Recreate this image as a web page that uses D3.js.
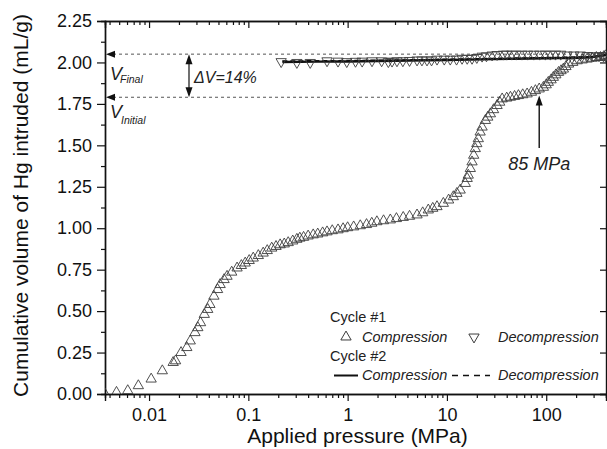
<!DOCTYPE html>
<html>
<head>
<meta charset="utf-8">
<script src="https://cdn.jsdelivr.net/npm/d3@7"></script>
<style>
  body { margin: 0; background: #fff; }
  svg { display: block; font-family: "Liberation Sans", Arial, sans-serif; }
</style>
</head>
<body>
<div id="chart"></div>
<script>
// Cycle #1 compression (up triangles): pressure MPa, volume mL/g
var c1CompP = [0.0036, 0.0047, 0.0061, 0.0078, 0.0105, 0.0136, 0.0175, 0.0185, 0.021, 0.024, 0.026, 0.029, 0.031, 0.033, 0.036, 0.039, 0.041,
  0.045, 0.049, 0.052, 0.057, 0.061, 0.068, 0.077, 0.085, 0.093, 0.102, 0.112, 0.126, 0.141, 0.155, 0.172, 0.19, 0.209, 0.23, 0.252, 0.28, 0.308,
  0.33, 0.36, 0.40, 0.45, 0.50, 0.56, 0.62, 0.70, 0.80, 0.90, 1.0, 1.15, 1.34, 1.55, 1.75, 1.97, 2.3, 2.69, 3.1, 3.63, 4.2, 5.0, 5.7, 6.49,
  7.2, 7.94, 9.2, 10.4, 11.6, 12.6, 13.6, 15.3, 16.0, 16.4, 17.2, 17.9, 18.6, 19.3, 20.0, 20.7, 21.6, 22.6, 24.4, 25.8, 27.4, 29.5, 32, 34, 36,
  40, 43.6, 48, 52.5, 58, 64.2, 71, 77.8, 85, 93.7, 100, 105, 112, 118, 125, 133, 141, 149, 158, 168, 185, 205, 230, 258, 290, 320, 352, 380, 395];
var c1CompV = [0.00, 0.01, 0.02, 0.05, 0.09, 0.14, 0.19, 0.20, 0.25, 0.28, 0.32, 0.37, 0.40, 0.43, 0.48, 0.51, 0.54,
  0.59, 0.63, 0.66, 0.69, 0.71, 0.735, 0.76, 0.775, 0.79, 0.805, 0.82, 0.835, 0.85, 0.865, 0.88, 0.89, 0.90, 0.905, 0.913, 0.923, 0.933,
  0.94, 0.945, 0.953, 0.96, 0.965, 0.972, 0.978, 0.985, 0.99, 0.997, 1.003, 1.008, 1.015, 1.022, 1.03, 1.039, 1.045, 1.05, 1.058, 1.065, 1.072, 1.08, 1.093, 1.11,
  1.12, 1.13, 1.15, 1.17, 1.19, 1.21, 1.23, 1.27, 1.30, 1.32, 1.36, 1.40, 1.44, 1.48, 1.51, 1.54, 1.58, 1.61, 1.65, 1.67, 1.69, 1.715, 1.74, 1.76, 1.78,
  1.785, 1.79, 1.795, 1.80, 1.805, 1.81, 1.82, 1.83, 1.84, 1.85, 1.865, 1.88, 1.895, 1.91, 1.925, 1.94, 1.95, 1.96, 1.975, 1.99, 2.00, 2.01, 2.015, 2.02, 2.025, 2.03, 2.03, 2.035, 2.04];

// Cycle #1 decompression (down triangles)
var c1DecP = [395, 377, 340, 299, 260, 221, 190, 162, 140, 124, 110, 98, 86, 75, 65, 57, 50, 45, 40, 37, 32, 28.5, 25, 22.6, 20, 17.9, 16, 14.2,
  12.5, 10.8, 9.4, 7.95, 7, 6.3, 5.6, 5.0, 4.2, 3.6, 3.14, 2.8, 2.57, 2.2, 1.76, 1.4, 1.2, 0.98, 0.8, 0.62, 0.42, 0.308, 0.214];
var c1DecV = [2.04, 2.04, 2.04, 2.04, 2.042, 2.045, 2.045, 2.045, 2.05, 2.05, 2.05, 2.05, 2.05, 2.05, 2.05, 2.05, 2.05, 2.05, 2.05, 2.05, 2.048, 2.045, 2.04, 2.038, 2.03, 2.025, 2.025, 2.025,
  2.02, 2.02, 2.02, 2.02, 2.015, 2.015, 2.015, 2.015, 2.012, 2.01, 2.01, 2.008, 2.005, 2.01, 2.01, 2.008, 2.007, 2.005, 2.008, 2.01, 2.0, 2.0, 2.005];

// Cycle #2 compression (solid) and decompression (dashed)
var c2CompP = [0.22, 0.5, 1, 3, 10, 30, 100, 250, 400];
var c2CompV = [2.003, 2.005, 2.006, 2.01, 2.015, 2.02, 2.025, 2.03, 2.045];
var c2DecP = [400, 250, 100, 30, 10, 3, 1, 0.3, 0.22];
var c2DecV = [2.045, 2.035, 2.03, 2.025, 2.02, 2.015, 2.012, 2.01, 2.01];

var xMajor = [0.01, 0.1, 1, 10, 100];
var xLabels = ['0.01', '0.1', '1', '10', '100'];
var yMajor = [0, 0.25, 0.5, 0.75, 1, 1.25, 1.5, 1.75, 2, 2.25];

var vFinal = 2.05;
var vInitial = 1.79;
var arrowP = 85;

var width = 607, height = 449;
var mLeft = 105, mRight = 606, mTop = 21, mBottom = 394;

var svg = d3.select('#chart').append('svg')
    .attr('width', width)
    .attr('height', height);

var x = d3.scaleLog().domain([0.0036, 400]).range([mLeft, mRight]);
var y = d3.scaleLinear().domain([0, 2.25]).range([mBottom, mTop]);

svg.append('clipPath').attr('id', 'clip')
  .append('rect').attr('x', mLeft).attr('y', mTop).attr('width', mRight - mLeft + 1).attr('height', mBottom - mTop);

// minor ticks
var xMinor = x.ticks().filter(function (d) { return xMajor.indexOf(d) < 0; });
var yMinor = d3.range(0.125, 2.25, 0.25);

function styleAxis(g) {
  g.selectAll('path.domain').attr('stroke', '#111').attr('stroke-width', 1.4);
  g.selectAll('.tick line').attr('stroke', '#111').attr('stroke-width', 1.2);
  g.selectAll('.tick text').attr('fill', '#111').style('font-size', '18px').style('font-family', '"Liberation Sans", Arial, sans-serif');
}

// bottom
svg.append('g').attr('transform', 'translate(0,' + mBottom + ')')
  .call(d3.axisBottom(x).tickValues(xMinor).tickSize(4).tickFormat(''))
  .call(styleAxis);
svg.append('g').attr('transform', 'translate(0,' + mBottom + ')')
  .call(d3.axisBottom(x).tickValues(xMajor).tickSize(7).tickPadding(7).tickFormat(function (d, i) { return xLabels[i]; }))
  .call(styleAxis);
// top
svg.append('g').attr('transform', 'translate(0,' + mTop + ')')
  .call(d3.axisTop(x).tickValues(xMinor).tickSize(-4).tickFormat(''))
  .call(styleAxis);
svg.append('g').attr('transform', 'translate(0,' + mTop + ')')
  .call(d3.axisTop(x).tickValues(xMajor).tickSize(-7).tickFormat(''))
  .call(styleAxis);
// left
svg.append('g').attr('transform', 'translate(' + mLeft + ',0)')
  .call(d3.axisLeft(y).tickValues(yMinor).tickSize(4).tickFormat(''))
  .call(styleAxis);
svg.append('g').attr('transform', 'translate(' + mLeft + ',0)')
  .call(d3.axisLeft(y).tickValues(yMajor).tickSize(8).tickPadding(5).tickFormat(d3.format('.2f')))
  .call(styleAxis);
// right
svg.append('g').attr('transform', 'translate(' + mRight + ',0)')
  .call(d3.axisRight(y).tickValues(yMajor).tickSize(-6).tickFormat(''))
  .call(styleAxis);

// axis titles
svg.append('text')
  .attr('x', (mLeft + mRight) / 2 + 2).attr('y', 443)
  .attr('text-anchor', 'middle')
  .style('font-size', '21px').attr('fill', '#111')
  .text('Applied pressure (MPa)');
svg.append('text')
  .attr('transform', 'translate(28,' + ((mTop + mBottom) / 2 - 2) + ')rotate(-90)')
  .attr('text-anchor', 'middle')
  .style('font-size', '21px').attr('fill', '#111')
  .text('Cumulative volume of Hg intruded (mL/g)');

// reference dashed lines
svg.append('line')
  .attr('x1', mLeft + 8).attr('x2', mRight).attr('y1', y(vFinal)).attr('y2', y(vFinal))
  .attr('stroke', '#555').attr('stroke-width', 1).attr('stroke-dasharray', '3,3');
svg.append('line')
  .attr('x1', mLeft + 8).attr('x2', x(36)).attr('y1', y(vInitial)).attr('y2', y(vInitial))
  .attr('stroke', '#555').attr('stroke-width', 1).attr('stroke-dasharray', '3,3');

function arrowHead(px, py, dir) {
  // dir: 'left', 'up', 'down'
  var p;
  if (dir === 'left') p = [[px, py], [px + 9, py - 3.5], [px + 9, py + 3.5]];
  else if (dir === 'up') p = [[px, py], [px - 3.5, py + 10], [px + 3.5, py + 10]];
  else p = [[px, py], [px - 3.5, py - 10], [px + 3.5, py - 10]];
  svg.append('path').attr('d', d3.line()(p) + 'Z').attr('fill', '#111');
}
arrowHead(mLeft + 1, y(vFinal), 'left');
arrowHead(mLeft + 1, y(vInitial), 'left');

// delta V double arrow
svg.append('line').attr('x1', 189).attr('x2', 189).attr('y1', y(vFinal) + 4).attr('y2', y(vInitial) - 4)
  .attr('stroke', '#111').attr('stroke-width', 1.2);
arrowHead(189, y(vFinal), 'up');
arrowHead(189, y(vInitial), 'down');

var ann = svg.append('g').attr('fill', '#222').style('font-style', 'italic');
ann.append('text').attr('x', 110).attr('y', 80).style('font-size', '18px').text('V');
ann.append('text').attr('x', 120).attr('y', 83).style('font-size', '10.5px').text('Final');
ann.append('text').attr('x', 110).attr('y', 118).style('font-size', '18px').text('V');
ann.append('text').attr('x', 121).attr('y', 124).style('font-size', '10.5px').text('Initial');
ann.append('text').attr('x', 194).attr('y', 83).style('font-size', '16px').text('\u0394V=14%');

// 85 MPa arrow
svg.append('line').attr('x1', x(arrowP)).attr('x2', x(arrowP)).attr('y1', 148).attr('y2', y(1.80) + 6)
  .attr('stroke', '#111').attr('stroke-width', 1.4);
arrowHead(x(arrowP), y(1.80), 'up');
ann.append('text').attr('x', x(arrowP)).attr('y', 170).attr('text-anchor', 'middle').style('font-size', '18px').text('85 MPa');

// data
var plot = svg.append('g').attr('clip-path', 'url(#clip)');
var tri = d3.symbol().type(d3.symbolTriangle).size(46);

var line = d3.line().x(function (d) { return x(d[0]); }).y(function (d) { return y(d[1]); }).curve(d3.curveMonotoneX);

plot.append('path')
  .datum(d3.zip(c2DecP, c2DecV).reverse())
  .attr('d', line).attr('fill', 'none').attr('stroke', '#111').attr('stroke-width', 1.3).attr('stroke-dasharray', '5,3');
plot.append('path')
  .datum(d3.zip(c2CompP, c2CompV))
  .attr('d', line).attr('fill', 'none').attr('stroke', '#111').attr('stroke-width', 2.4);

plot.selectAll('.up').data(d3.zip(c1CompP, c1CompV)).enter().append('path')
  .attr('class', 'up')
  .attr('d', tri)
  .attr('transform', function (d) { return 'translate(' + x(d[0]) + ',' + y(d[1]) + ')'; })
  .attr('fill', 'none').attr('stroke', '#3c3c3c').attr('stroke-width', 0.9);

plot.selectAll('.down').data(d3.zip(c1DecP, c1DecV)).enter().append('path')
  .attr('class', 'down')
  .attr('d', tri)
  .attr('transform', function (d) { return 'translate(' + x(d[0]) + ',' + y(d[1]) + ')rotate(180)'; })
  .attr('fill', 'none').attr('stroke', '#3c3c3c').attr('stroke-width', 0.9);

// legend
var lg = svg.append('g').attr('fill', '#222').style('font-size', '14.5px');
lg.append('text').attr('x', 330).attr('y', 322).text('Cycle #1');
lg.append('path').attr('d', tri).attr('transform', 'translate(346,337)').attr('fill', 'none').attr('stroke', '#3c3c3c');
lg.append('text').attr('x', 362).attr('y', 342).style('font-style', 'italic').text('Compression');
lg.append('path').attr('d', tri).attr('transform', 'translate(474,337)rotate(180)').attr('fill', 'none').attr('stroke', '#3c3c3c');
lg.append('text').attr('x', 498).attr('y', 342).style('font-style', 'italic').text('Decompression');
lg.append('text').attr('x', 330).attr('y', 361).text('Cycle #2');
lg.append('line').attr('x1', 334).attr('x2', 358).attr('y1', 375.5).attr('y2', 375.5).attr('stroke', '#111').attr('stroke-width', 2);
lg.append('text').attr('x', 362).attr('y', 380).style('font-style', 'italic').text('Compression');
lg.append('line').attr('x1', 452).attr('x2', 490).attr('y1', 375.5).attr('y2', 375.5).attr('stroke', '#111').attr('stroke-width', 1.3).attr('stroke-dasharray', '6,5');
lg.append('text').attr('x', 498).attr('y', 380).style('font-style', 'italic').text('Decompression');
</script>
</body>
</html>
